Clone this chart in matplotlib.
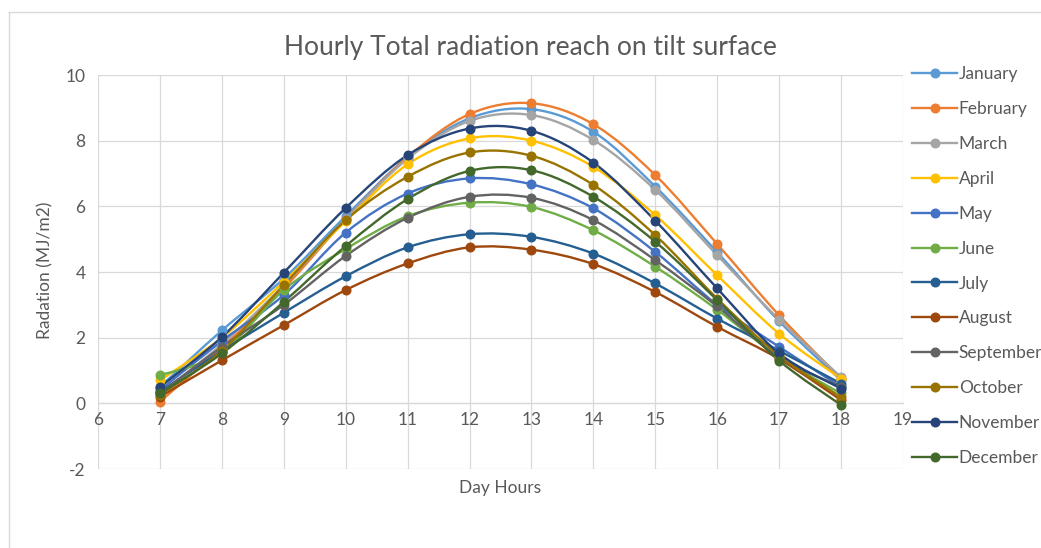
import matplotlib
matplotlib.use("Agg")
import matplotlib.pyplot as plt
from matplotlib.path import Path
from matplotlib.patches import PathPatch
from matplotlib.lines import Line2D
import numpy as np

plt.rcParams['font.family'] = ['Lato', 'DejaVu Sans']
plt.rcParams['axes.unicode_minus'] = False

hours = [7, 8, 9, 10, 11, 12, 13, 14, 15, 16, 17, 18]
months = ["January", "February", "March", "April", "May", "June", "July",
          "August", "September", "October", "November", "December"]

january = [0.50, 2.22, 3.80, 5.70, 7.50, 8.68, 8.96, 8.27, 6.60, 4.60, 2.50, 0.70]
february = [0.05, 1.70, 3.50, 5.60, 7.50, 8.81, 9.14, 8.50, 6.95, 4.85, 2.68, 0.75]
march = [0.30, 1.80, 3.60, 5.60, 7.45, 8.60, 8.78, 8.02, 6.50, 4.51, 2.55, 0.80]
april = [0.70, 2.00, 3.70, 5.55, 7.28, 8.07, 8.00, 7.20, 5.73, 3.90, 2.12, 0.75]
may = [0.40, 1.90, 3.30, 5.20, 6.39, 6.85, 6.67, 5.94, 4.61, 3.00, 1.72, 0.50]
june = [0.85, 1.55, 3.45, 4.70, 5.70, 6.11, 5.98, 5.27, 4.16, 2.85, 1.40, 0.30]
july = [0.35, 1.60, 2.76, 3.87, 4.75, 5.15, 5.07, 4.56, 3.65, 2.58, 1.60, 0.60]
august = [0.20, 1.31, 2.38, 3.45, 4.26, 4.75, 4.68, 4.24, 3.39, 2.33, 1.35, 0.10]
september = [0.30, 1.72, 3.00, 4.49, 5.65, 6.29, 6.26, 5.58, 4.36, 2.95, 1.40, 0.50]
october = [0.25, 1.60, 3.60, 5.58, 6.90, 7.64, 7.54, 6.65, 5.12, 3.19, 1.45, 0.19]
november = [0.50, 2.02, 3.98, 5.95, 7.56, 8.37, 8.30, 7.33, 5.56, 3.50, 1.52, 0.45]
december = [0.30, 1.52, 3.09, 4.79, 6.22, 7.08, 7.10, 6.29, 4.92, 3.14, 1.30, -0.05]

series = [january, february, march, april, may, june, july, august,
          september, october, november, december]
colors = ["#5B9BD5", "#ED7D31", "#A5A5A5", "#FFC000", "#4472C4", "#70AD47",
          "#255E91", "#9E480E", "#636363", "#997300", "#264478", "#43682B"]

x_ticks = list(range(6, 20))
y_ticks = [-2, 0, 2, 4, 6, 8, 10]

W, H = 1041, 548
fig = plt.figure(figsize=(W / 100, H / 100), dpi=100)
ax = fig.add_axes([98 / W, 1 - 469 / H, (903 - 98) / W, (469 - 75) / H])

txt = "#595959"
grid_c = "#D9D9D9"
fs = 12.5


def smooth_path(xs, ys):
    pts = np.column_stack([xs, ys]).astype(float)
    n = len(pts)
    verts = [pts[0]]
    codes = [Path.MOVETO]
    for i in range(n - 1):
        p0 = pts[i - 1] if i > 0 else pts[i]
        p1 = pts[i]
        p2 = pts[i + 1]
        p3 = pts[i + 2] if i + 2 < n else pts[i + 1]
        c1 = p1 + (p2 - p0) / 6.0
        c2 = p2 - (p3 - p1) / 6.0
        verts += [c1, c2, p2]
        codes += [Path.CURVE4] * 3
    return Path(verts, codes)


for vals, c, name in zip(series, colors, months):
    patch = PathPatch(smooth_path(hours, vals), facecolor="none", edgecolor=c,
                      lw=1.7, zorder=3)
    ax.add_patch(patch)
    ax.plot(hours, vals, linestyle="none", marker="o", markersize=6.2,
            color=c, zorder=4)

ax.set_xlim(6, 19)
ax.set_ylim(-2, 10)
ax.set_xticks(x_ticks)
ax.set_yticks(y_ticks)
ax.grid(True, color=grid_c, lw=0.9, zorder=0)
for s in ["top", "right", "left"]:
    ax.spines[s].set_visible(False)
ax.spines["bottom"].set_position(("data", 0))
ax.spines["bottom"].set_color(grid_c)
ax.spines["bottom"].set_linewidth(0.9)
ax.tick_params(axis="both", length=0, labelsize=fs, labelcolor=txt)
ax.tick_params(axis="x", pad=6)
ax.tick_params(axis="y", pad=9)
ax.set_axisbelow(True)

fig.text(530 / W, 1 - 47 / H, "Hourly Total radiation reach on tilt surface",
         ha="center", va="center", fontsize=19, color=txt)
fig.text(500 / W, 1 - 488 / H, "Day Hours", ha="center", va="center",
         fontsize=fs, color=txt)
fig.text(45 / W, 1 - 270 / H, "Radation (MJ/m2)", ha="center", va="center",
         rotation=90, fontsize=fs, color=txt)

handles = [Line2D([0], [0], color=c, lw=1.7, marker="o", markersize=6.2)
           for c in colors]
fig.legend(handles, months, loc="upper left",
           bbox_to_anchor=(912 / W, 1 - 66 / H), frameon=False,
           fontsize=fs, handlelength=2.6, handletextpad=0.1,
           labelspacing=1.09, borderpad=0, borderaxespad=0,
           labelcolor=txt)

# outer chart border
fig.add_artist(Line2D([9 / W, 1], [1 - 12 / H, 1 - 12 / H],
                      transform=fig.transFigure, color=grid_c, lw=1))
fig.add_artist(Line2D([9 / W, 9 / W], [0, 1 - 12 / H],
                      transform=fig.transFigure, color=grid_c, lw=1))

fig.savefig("out.png", dpi=100)
